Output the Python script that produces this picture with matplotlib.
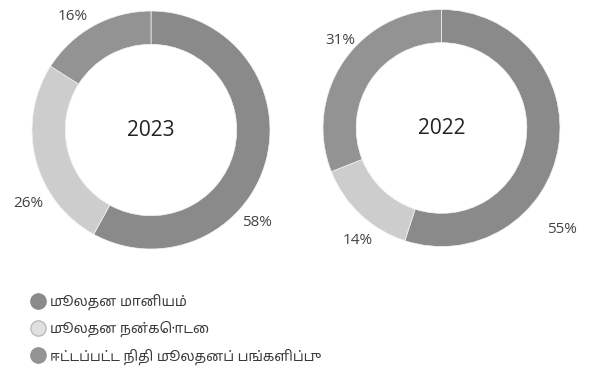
import matplotlib
matplotlib.use("Agg")
import matplotlib.pyplot as plt
from matplotlib.lines import Line2D

# funding shares by year, clockwise from 12 o'clock
categories = ["மூலதன மானியம்", "மூலதன நன்கொடை", "ஈட்டப்பட்ட நிதி மூலதனப் பங்களிப்பு"]
years = ["2023", "2022"]
shares_2023 = [58, 26, 16]
shares_2022 = [55, 14, 31]

colors = ["#8a8a8a", "#cdcdcd", "#939393"]
num_font = ["Open Sans", "DejaVu Sans"]
tamil_font = ["Noto Sans Tamil", "DejaVu Sans"]

# label offsets from each ring centre, in units of the ring radius
label_pos_2023 = [(0.89, -0.78), (-1.03, -0.62), (-0.66, 0.95)]
label_pos_2022 = [(1.02, -0.86), (-0.71, -0.95), (-0.85, 0.74)]

W, H = 590, 373
fig = plt.figure(figsize=(W / 100, H / 100), dpi=100)
ax = fig.add_axes([0, 0, 1, 1])

rings = [
    (shares_2023, years[0], (151, H - 130), 119, label_pos_2023),
    (shares_2022, years[1], (441.5, H - 128), 118.5, label_pos_2022),
]
for vals, year, center, r, label_pos in rings:
    ax.pie(vals, colors=colors, startangle=90, counterclock=False,
           center=center, radius=r, frame=True,
           wedgeprops=dict(width=r * 0.28, edgecolor="#f4f4f4", linewidth=0.5))
    ax.text(center[0], center[1], year, ha="center", va="center",
            fontsize=15, color="#222222", family=num_font, weight="medium")
    for v, (dx, dy) in zip(vals, label_pos):
        ax.text(center[0] + dx * r, center[1] + dy * r, f"{v}%",
                ha="center", va="center", fontsize=11, color="#444444",
                family=num_font, weight="medium")

ax.set_xlim(0, W)
ax.set_ylim(0, H)
ax.set_aspect("auto")
ax.axis("off")

handles = [Line2D([], [], linestyle="none", marker="o", markersize=11,
                  markerfacecolor=c, markeredgecolor=c) for c in colors]
handles[1].set_markerfacecolor("#e0e0e0")
handles[1].set_markeredgecolor("#bbbbbb")
leg = ax.legend(handles, categories, loc="upper left",
                bbox_to_anchor=(19 / W, 1 - 281 / H), frameon=False,
                handlelength=0.9, handletextpad=0.45, labelspacing=0.8,
                prop=dict(family=tamil_font, size=10))
for t in leg.get_texts():
    t.set_color("#3a3a3a")

fig.savefig("out.png", dpi=100)
